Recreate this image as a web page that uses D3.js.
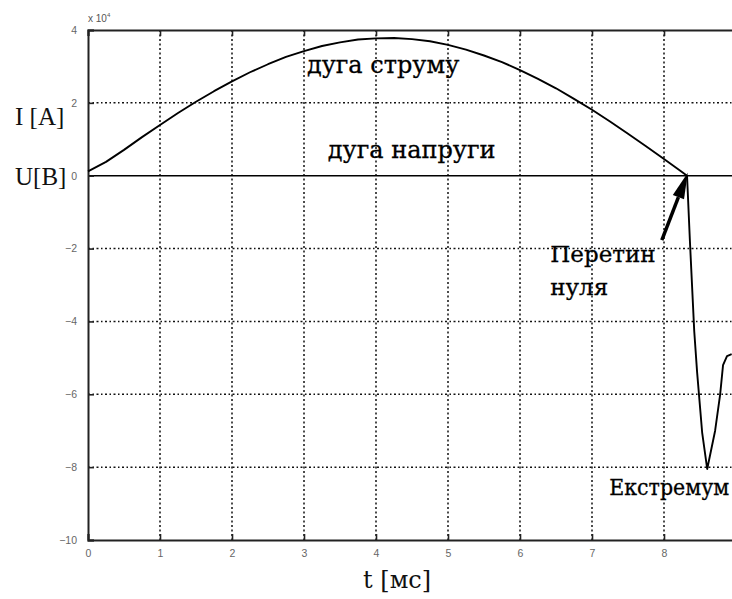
<!DOCTYPE html>
<html>
<head>
<meta charset="utf-8">
<script src="https://cdn.jsdelivr.net/npm/d3@7"></script>
<style>
  html, body { margin: 0; padding: 0; background: #fff; }
  svg { display: block; }
</style>
</head>
<body>
<svg id="chart" width="732" height="599"></svg>
<script>
// Arc current through the half-period and the transient after the zero crossing (x 10^4 A)
const timeMs = [0, 0.25, 0.5, 0.75, 1.0, 1.25, 1.5, 1.75, 2.0, 2.25, 2.5, 2.75, 3.0, 3.25, 3.5, 3.75,
  4.0, 4.25, 4.5, 4.75, 5.0, 5.25, 5.5, 5.75, 6.0, 6.25, 6.5, 6.75, 7.0, 7.25, 7.5, 7.75, 8.0, 8.25,
  8.32, 8.36, 8.42, 8.46, 8.53, 8.60, 8.71, 8.78, 8.82, 8.875, 8.94];
const current = [0.12, 0.38, 0.71, 1.06, 1.39, 1.72, 2.03, 2.32, 2.59, 2.84, 3.06, 3.26, 3.42, 3.56, 3.66, 3.74,
  3.77, 3.78, 3.75, 3.69, 3.59, 3.46, 3.30, 3.12, 2.90, 2.66, 2.40, 2.11, 1.81, 1.49, 1.15, 0.81, 0.46, 0.10,
  0.0, -1.8, -4.27, -5.4, -7.05, -8.05, -7.0, -6.0, -5.2, -4.95, -4.9];

const xTicks = [0, 1, 2, 3, 4, 5, 6, 7, 8, 9];
const yTicks = [4, 2, 0, -2, -4, -6, -8, -10];

// Text annotations placed in data coordinates (fit: optional width limit in px)
const notes = [
  { text: "дуга струму", t: 3.04, v: 2.82, size: 24 },
  { text: "дуга напруги", t: 3.33, v: 0.49, size: 24 },
  { text: "Перетин", t: 6.42, v: -2.37, size: 23 },
  { text: "нуля", t: 6.42, v: -3.28, size: 23 },
  { text: "Екстремум", t: 7.24, v: -8.77, size: 22, fit: 120 }
];
const arrowFrom = { t: 7.97, v: -1.77 };
const arrowTo = { t: 8.33, v: 0.08 };

const svg = d3.select("#chart");
const plotL = 88, plotR = 736, plotT = 30, plotB = 540;

const x = d3.scaleLinear().domain([0, 9]).range([plotL, plotR]);
const y = d3.scaleLinear().domain([-10, 4]).range([plotB, plotT]);

const serif = "'DejaVu Serif', serif";
const grid = svg.append("g");

// dotted grid
grid.selectAll("line.vx").data(xTicks.slice(1)).enter().append("line")
  .attr("x1", d => x(d)).attr("x2", d => x(d))
  .attr("y1", plotT).attr("y2", plotB)
  .attr("stroke", "#111").attr("stroke-width", 1.5).attr("stroke-dasharray", "2,2.5");
grid.selectAll("line.hy").data(yTicks.filter(d => d !== 4 && d !== -10 && d !== 0)).enter().append("line")
  .attr("x1", plotL).attr("x2", plotR)
  .attr("y1", d => y(d)).attr("y2", d => y(d))
  .attr("stroke", "#111").attr("stroke-width", 1.5).attr("stroke-dasharray", "2,2.5,1.5,2.5");

// voltage arc along zero
svg.append("line")
  .attr("x1", plotL).attr("x2", plotR).attr("y1", y(0)).attr("y2", y(0))
  .attr("stroke", "#000").attr("stroke-width", 1.6);

// axes (MATLAB style: ticks inward)
const axB = d3.axisBottom(x).tickValues(xTicks).tickSize(-6).tickPadding(10).tickFormat(d3.format("d"));
const axT = d3.axisTop(x).tickValues(xTicks).tickSize(-6).tickFormat("");
const axL = d3.axisLeft(y).tickValues(yTicks).tickSize(-6).tickPadding(11)
  .tickFormat(d => d < 0 ? "\u2212" + Math.abs(d) : String(d));

function styleAxis(g) {
  g.select(".domain").attr("stroke", "#222").attr("stroke-width", 2);
  g.selectAll(".tick line").attr("stroke", "#222").attr("stroke-width", 1.6);
  g.selectAll("text").attr("fill", "#666").attr("font-family", "'Liberation Sans', Arial, sans-serif")
    .attr("font-size", 10.5);
}
svg.append("g").attr("transform", `translate(0,${plotB})`).call(axB).call(styleAxis);
svg.append("g").attr("transform", `translate(0,${plotT})`).call(axT).call(styleAxis);
svg.append("g").attr("transform", `translate(${plotL},0)`).call(axL).call(styleAxis);

// exponent label
const ex = svg.append("text").attr("x", plotL).attr("y", 22)
  .attr("font-family", "'Liberation Sans', Arial, sans-serif").attr("font-size", 10).attr("fill", "#555");
ex.append("tspan").text("x 10");
ex.append("tspan").attr("dy", -5).attr("font-size", 6).text("4");

// current curve
const line = d3.line().x((d, i) => x(timeMs[i])).y(d => y(d));
svg.append("path").datum(current)
  .attr("d", line).attr("fill", "none").attr("stroke", "#000").attr("stroke-width", 1.9)
  .attr("stroke-linejoin", "round");

// annotations
const noteText = svg.selectAll("text.note").data(notes).enter().append("text")
  .attr("class", "note")
  .attr("x", d => x(d.t)).attr("y", d => y(d.v))
  .attr("font-family", serif).attr("font-size", d => d.size).attr("fill", "#000")
  .attr("stroke", "#000").attr("stroke-width", 0.3)
  .text(d => d.text);
noteText.filter(d => d.fit)
  .attr("textLength", d => d.fit).attr("lengthAdjust", "spacingAndGlyphs");

// arrow pointing at the zero crossing
const ax0 = x(arrowFrom.t), ay0 = y(arrowFrom.v), ax1 = x(arrowTo.t), ay1 = y(arrowTo.v);
const len = Math.hypot(ax1 - ax0, ay1 - ay0), ux = (ax1 - ax0) / len, uy = (ay1 - ay0) / len;
const hl = 26, hw = 6;
const bx = ax1 - ux * hl, by = ay1 - uy * hl;
svg.append("line").attr("x1", ax0).attr("y1", ay0).attr("x2", bx).attr("y2", by)
  .attr("stroke", "#000").attr("stroke-width", 3.5);
svg.append("path")
  .attr("d", `M${ax1},${ay1}L${bx - uy * hw},${by + ux * hw}L${bx + uy * hw},${by - ux * hw}Z`)
  .attr("fill", "#000");

// axis titles
svg.append("text").attr("x", 15).attr("y", 125)
  .attr("font-family", "'Liberation Serif', serif").attr("font-size", 25).attr("fill", "#111").text("I [A]");
svg.append("text").attr("x", 15).attr("y", 185)
  .attr("font-family", "'Liberation Serif', serif").attr("font-size", 25).attr("fill", "#111").text("U[B]");
svg.append("text").attr("x", 363).attr("y", 588)
  .attr("font-family", serif).attr("font-size", 24).attr("fill", "#111").text("t [мс]");
</script>
</body>
</html>
